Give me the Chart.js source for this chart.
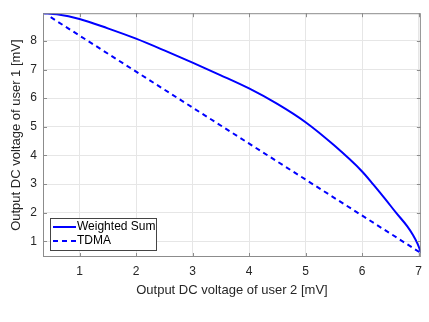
<!DOCTYPE html>
<html>
<head>
<meta charset="utf-8">
<script src="https://cdn.jsdelivr.net/npm/chart.js@4"></script>
<style>
  html, body { margin: 0; padding: 0; background: #fff; }
  #wrap { width: 429px; height: 322px; }
</style>
</head>
<body>
<div id="wrap"><canvas id="chart" width="429" height="322"></canvas></div>
<script>
// Weighted Sum curve
const wsX = [0.354, 0.6, 1.0, 1.5, 2.0, 2.5, 3.0, 3.5, 4.0, 4.5, 5.0, 5.5, 6.0, 6.2, 6.4, 6.6, 6.8, 6.9, 6.98, 7.02, 7.04];
const wsY = [8.97, 8.93, 8.77, 8.44, 8.08, 7.67, 7.24, 6.8, 6.34, 5.8, 5.16, 4.36, 3.44, 2.98, 2.5, 2.0, 1.52, 1.22, 0.92, 0.72, 0.59];
// TDMA line
const tdmaX = [0.49, 7.04];
const tdmaY = [8.83, 0.59];

const xTicks = [1, 2, 3, 4, 5, 6, 7];
const yTicks = [1, 2, 3, 4, 5, 6, 7, 8];
const labels = ['Weighted Sum', 'TDMA'];

const toPts = (xs, ys) => xs.map((x, i) => ({ x: x, y: ys[i] }));

const FONT = 'Liberation Sans, Arial, Helvetica, sans-serif';
const AXIS = '#8c8c8c';
const TXT = '#262626';

// box, inner tick marks and legend, MATLAB style
const boxPlugin = {
    id: 'box',
    afterDraw(chart) {
        const ctx = chart.ctx;
        const a = chart.chartArea;
        const xs = chart.scales.x, ys = chart.scales.y;
        ctx.save();
        ctx.strokeStyle = AXIS;
        ctx.lineWidth = 1;
        ctx.strokeRect(a.left + 0.5, a.top + 0.5, a.right - a.left - 1, a.bottom - a.top - 1);
        ctx.beginPath();
        xTicks.forEach(v => {
            const px = Math.round(xs.getPixelForValue(v)) + 0.5;
            ctx.moveTo(px, a.bottom); ctx.lineTo(px, a.bottom - 4);
            ctx.moveTo(px, a.top); ctx.lineTo(px, a.top + 4);
        });
        yTicks.forEach(v => {
            const py = Math.round(ys.getPixelForValue(v)) + 0.5;
            ctx.moveTo(a.left, py); ctx.lineTo(a.left + 4, py);
            ctx.moveTo(a.right, py); ctx.lineTo(a.right - 4, py);
        });
        ctx.stroke();

        // legend
        const lx = a.left + 7, ly = a.bottom - 39, lw = 106, lh = 32;
        ctx.fillStyle = '#fff';
        ctx.fillRect(lx, ly, lw, lh);
        ctx.strokeStyle = '#444';
        ctx.strokeRect(lx + 0.5, ly + 0.5, lw, lh);
        ctx.font = '12px ' + FONT;
        ctx.textBaseline = 'middle';
        chart.data.datasets.forEach((ds, i) => {
            const cy = ly + 9 + i * 14;
            ctx.strokeStyle = ds.borderColor;
            ctx.lineWidth = 2;
            ctx.setLineDash(ds.borderDash || []);
            ctx.beginPath();
            ctx.moveTo(lx + 3, cy); ctx.lineTo(lx + 26, cy);
            ctx.stroke();
            ctx.setLineDash([]);
            ctx.fillStyle = '#000';
            ctx.fillText(ds.label, lx + 27, cy);
        });
        ctx.restore();
    }
};

new Chart(document.getElementById('chart'), {
    type: 'scatter',
    data: {
        datasets: [
            {
                label: labels[0],
                data: toPts(wsX, wsY),
                showLine: true,
                borderColor: '#0000ff',
                borderWidth: 2,
                pointRadius: 0,
                cubicInterpolationMode: 'monotone',
                fill: false
            },
            {
                label: labels[1],
                data: toPts(tdmaX, tdmaY),
                showLine: true,
                borderColor: '#0000ff',
                borderWidth: 2,
                borderDash: [5, 4],
                pointRadius: 0,
                fill: false
            }
        ]
    },
    options: {
        responsive: false,
        animation: false,
        layout: { padding: { top: 5, right: 8, bottom: 24, left: 0 } },
        plugins: {
            legend: { display: false },
            tooltip: { enabled: false }
        },
        scales: {
            x: {
                type: 'linear',
                min: 0.354,
                max: 7.04,
                afterBuildTicks: s => { s.ticks = xTicks.map(v => ({ value: v })); },
                afterFit: s => { s.height = 41; },
                grid: { color: '#e6e6e6', tickLength: 0, drawTicks: false },
                border: { display: false },
                ticks: { color: TXT, font: { family: FONT, size: 12 }, padding: 7, maxRotation: 0 },
                title: {
                    display: true,
                    text: 'Output DC voltage of user 2 [mV]',
                    color: TXT,
                    font: { family: FONT, size: 13 },
                    padding: { top: 0, bottom: 0 }
                }
            },
            y: {
                type: 'linear',
                min: 0.45,
                max: 8.97,
                afterBuildTicks: s => { s.ticks = yTicks.map(v => ({ value: v })); },
                afterFit: s => { s.width = 43; },
                grid: { color: '#e6e6e6', tickLength: 0, drawTicks: false },
                border: { display: false },
                ticks: { color: TXT, font: { family: FONT, size: 12 }, padding: 6 },
                title: {
                    display: true,
                    text: 'Output DC voltage of user 1 [mV]',
                    color: TXT,
                    font: { family: FONT, size: 13 },
                    padding: { top: 9, bottom: 0 }
                }
            }
        }
    },
    plugins: [boxPlugin]
});
</script>
</body>
</html>
